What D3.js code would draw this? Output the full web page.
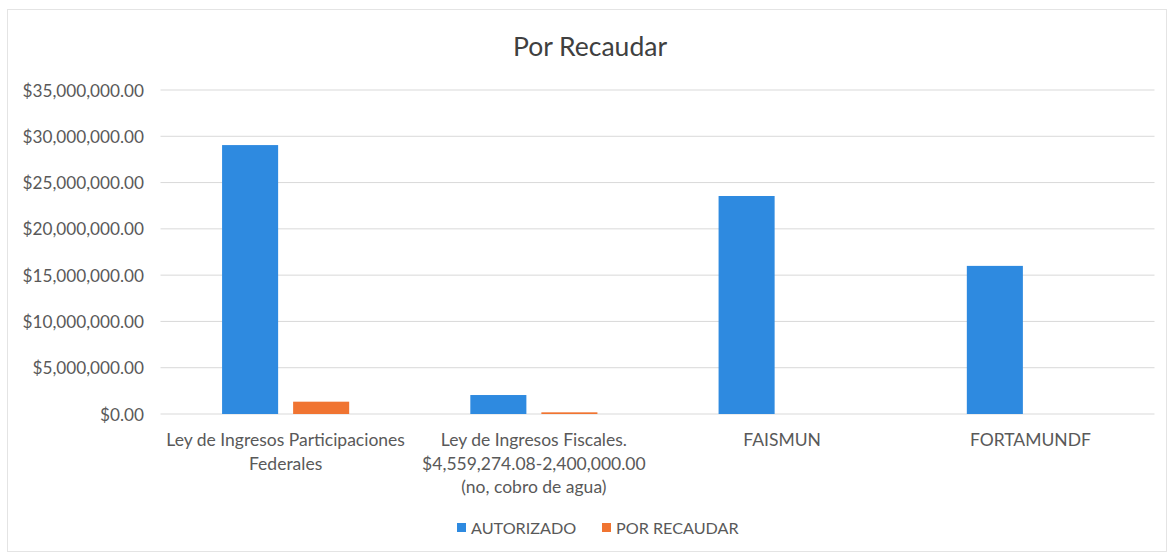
<!DOCTYPE html>
<html><head><meta charset="utf-8">
<script src="https://cdn.jsdelivr.net/npm/d3@7"></script>
<style>body{margin:0;background:#fff}svg{display:block}text{font-family:Lato,"Open Sans",sans-serif}</style>
</head><body><svg id="c" width="1167" height="552"></svg>
<script>
const categories = [
  ["Ley de Ingresos Participaciones", "Federales"],
  ["Ley de Ingresos Fiscales.", "$4,559,274.08-2,400,000.00", "(no, cobro de agua)"],
  ["FAISMUN"],
  ["FORTAMUNDF"]
];
const seriesNames = ["AUTORIZADO", "POR RECAUDAR"];
const autorizado = [29050000, 2050000, 23550000, 16000000];
const porRecaudar = [1330000, 180000, 0, 0];
const yTicks = [0, 5000000, 10000000, 15000000, 20000000, 25000000, 30000000, 35000000];
const colors = ["#2e8ae0", "#f07431"];

const svg = d3.select("#c");
const W = 1167, H = 552;
const m = {left: 161.5, right: 1154.5, top: 90, bottom: 414};

svg.append("rect").attr("x",7.5).attr("y",9.5).attr("width",W-8).attr("height",H-10)
  .attr("fill","#fff").attr("stroke","#e4e4e4");

const catIdx = categories.map((d,i)=>i);
const x0 = d3.scaleBand().domain(catIdx).range([m.left, m.right]).paddingInner(0.488).paddingOuter(0.244);
const x1 = d3.scaleBand().domain(seriesNames).range([0, x0.bandwidth()]).paddingInner(0.211).paddingOuter(0);
const y = d3.scaleLinear().domain([0, 35000000]).range([m.bottom, m.top]);

// gridlines
svg.append("g").selectAll("line").data(yTicks).join("line")
  .attr("x1", m.left-1).attr("x2", m.right).attr("y1", d=>y(d)).attr("y2", d=>y(d))
  .attr("stroke", "#d9d9d9").attr("stroke-width", 1);

// y axis labels
const fmt = d => "$" + d3.format(",.2f")(d);
const yAxis = d3.axisLeft(y).tickValues(yTicks).tickFormat(fmt).tickSize(0).tickPadding(0);
const ga = svg.append("g").attr("transform", `translate(144,0)`).call(yAxis);
ga.select(".domain").remove();
ga.selectAll("text").attr("font-size", 17.2).attr("fill", "#595959").attr("font-family","Lato,sans-serif").attr("dy","0.35em");

// bars
const data = catIdx.map(i => [{s: seriesNames[0], v: autorizado[i]}, {s: seriesNames[1], v: porRecaudar[i]}]);
const groups = svg.append("g").selectAll("g").data(data).join("g")
  .attr("transform", (d,i)=>`translate(${x0(i)},0)`);
groups.selectAll("rect").data(d=>d).join("rect")
  .attr("x", d=>x1(d.s)).attr("width", x1.bandwidth())
  .attr("y", d=>y(d.v)).attr("height", d=>y(0)-y(d.v))
  .attr("fill", (d,j)=>colors[j]);

// category labels
const cl = svg.append("g").selectAll("text").data(categories).join("text")
  .attr("x", (d,i)=>x0(i)+x0.bandwidth()/2).attr("y", 446)
  .attr("text-anchor","middle").attr("font-size", 17.5).attr("fill","#595959");
cl.selectAll("tspan").data(d=>d).join("tspan")
  .attr("x", function(){return this.parentNode.getAttribute("x");})
  .attr("dy", (d,j)=> j===0 ? 0 : 23.5).text(d=>d);

// title
svg.append("text").attr("x", 590).attr("y", 56).attr("text-anchor","middle")
  .attr("font-size", 26.5).attr("fill","#404040").text("Por Recaudar");

// legend
const legend = [{name: seriesNames[0], x: 457}, {name: seriesNames[1], x: 602}];
const lg = svg.append("g").selectAll("g").data(legend).join("g");
lg.append("rect").attr("x", d=>d.x).attr("y", 523).attr("width", 9).attr("height", 9).attr("fill", (d,i)=>colors[i]);
lg.append("text").attr("x", d=>d.x+14).attr("y", 534).attr("font-size", 16.2).attr("fill","#595959").text(d=>d.name);
</script></body></html>
